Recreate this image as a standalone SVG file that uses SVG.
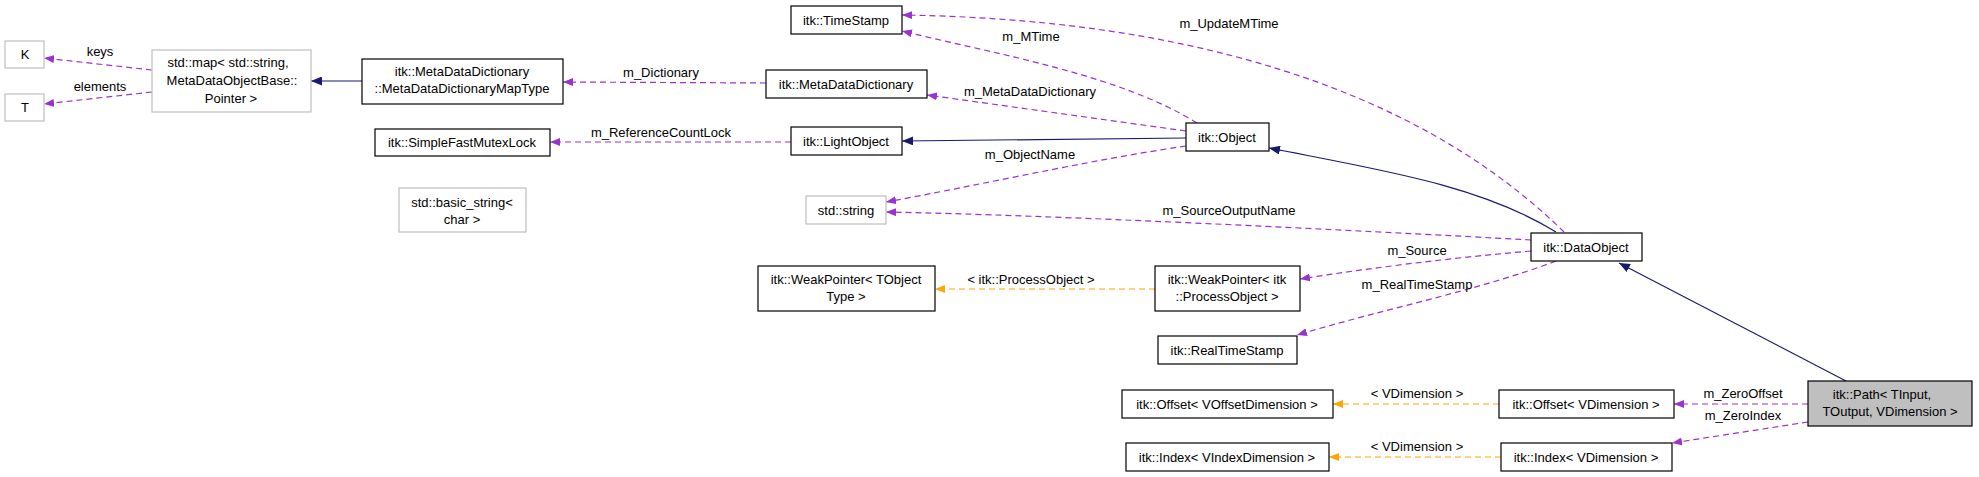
<svg xmlns="http://www.w3.org/2000/svg" width="1979" height="477" viewBox="0 0 1979 477">
<style>
.n rect{fill:#fff;stroke:#000;stroke-width:1.2}
.g rect{fill:#fff;stroke:#bfbfbf;stroke-width:1.2}
text{font-family:"Liberation Sans",Arial,sans-serif;font-size:13px;fill:#000;text-anchor:middle}
.p{fill:none;stroke:#9a32cd;stroke-width:1.2;stroke-dasharray:6,4}
.o{fill:none;stroke:#ffa500;stroke-width:1.2;stroke-dasharray:6,4}
.i{fill:none;stroke:#191970;stroke-width:1.2}
</style>
<defs>
<marker id="ap" markerWidth="10" markerHeight="8" refX="10" refY="4" orient="auto" markerUnits="userSpaceOnUse"><path d="M0,0L10,4L0,8z" fill="#9a32cd"/></marker>
<marker id="ao" markerWidth="10" markerHeight="8" refX="10" refY="4" orient="auto" markerUnits="userSpaceOnUse"><path d="M0,0L10,4L0,8z" fill="#ffa500"/></marker>
<marker id="ai" markerWidth="11" markerHeight="9" refX="11" refY="4.5" orient="auto" markerUnits="userSpaceOnUse"><path d="M0,0L11,4.5L0,9z" fill="#191970"/></marker>
</defs>
<rect width="1979" height="477" fill="#fff"/>
<g id="connectors">
<path class="p" d="M152,70L44,58" marker-end="url(#ap)"/><text x="100" y="56">keys</text>
<path class="p" d="M152,92L44,104" marker-end="url(#ap)"/><text x="100" y="91">elements</text>
<path class="i" d="M362,81L311,81" marker-end="url(#ai)"/>
<path class="p" d="M766,83L563,82" marker-end="url(#ap)"/><text x="661" y="77">m_Dictionary</text>
<path class="p" d="M791,142L550,142" marker-end="url(#ap)"/><text x="661" y="137">m_ReferenceCountLock</text>
<path class="i" d="M1186,138L902,141" marker-end="url(#ai)"/>
<path class="p" d="M1197,123C1120,75 1000,55 902,31" marker-end="url(#ap)"/><text x="1031" y="41">m_MTime</text>
<path class="p" d="M1564,232C1450,120 1250,20 902,15" marker-end="url(#ap)"/><text x="1229" y="28">m_UpdateMTime</text>
<path class="p" d="M1186,131L927,95" marker-end="url(#ap)"/><text x="1030" y="96">m_MetaDataDictionary</text>
<path class="p" d="M1186,146C1090,160 980,185 886,202" marker-end="url(#ap)"/><text x="1030" y="159">m_ObjectName</text>
<path class="p" d="M1531,240C1350,230 1050,215 886,212" marker-end="url(#ap)"/><text x="1229" y="215">m_SourceOutputName</text>
<path class="p" d="M1531,251C1450,258 1370,268 1300,279" marker-end="url(#ap)"/><text x="1417" y="255">m_Source</text>
<path class="p" d="M1556,261C1480,290 1380,310 1297,335" marker-end="url(#ap)"/><text x="1417" y="289">m_RealTimeStamp</text>
<path class="i" d="M1556,232C1480,185 1380,170 1269,148" marker-end="url(#ai)"/>
<path class="i" d="M1846,381L1619,263" marker-end="url(#ai)"/>
<path class="o" d="M1155,289L935,289" marker-end="url(#ao)"/><text x="1031" y="284">&lt; itk::ProcessObject &gt;</text>
<path class="o" d="M1499,404L1333,404" marker-end="url(#ao)"/><text x="1417" y="398">&lt; VDimension &gt;</text>
<path class="o" d="M1501,457L1329,457" marker-end="url(#ao)"/><text x="1417" y="451">&lt; VDimension &gt;</text>
<path class="p" d="M1808,404L1674,404" marker-end="url(#ap)"/><text x="1743" y="398">m_ZeroOffset</text>
<path class="p" d="M1808,422L1672,443" marker-end="url(#ap)"/><text x="1743" y="420">m_ZeroIndex</text>
</g>
<g id="K" class="g"><rect x="5" y="41" width="39" height="27"/><text x="25" y="59">K</text></g>
<g id="T" class="g"><rect x="5" y="94" width="39" height="27"/><text x="25" y="112">T</text></g>
<g id="stdmap" class="g"><rect x="152" y="50" width="159" height="62"/><text x="228" y="67">std::map&lt; std::string,</text><text x="232" y="85">MetaDataObjectBase::</text><text x="231" y="103">Pointer &gt;</text></g>
<g id="maptype" class="n"><rect x="362" y="59" width="201" height="45"/><text x="462" y="76">itk::MetaDataDictionary</text><text x="462" y="93">::MetaDataDictionaryMapType</text></g>
<g id="mutex" class="n"><rect x="375" y="129" width="175" height="27"/><text x="462" y="147">itk::SimpleFastMutexLock</text></g>
<g id="basicstring" class="g"><rect x="399" y="188" width="127" height="44"/><text x="462" y="207">std::basic_string&lt;</text><text x="462" y="224">char &gt;</text></g>
<g id="timestamp" class="n"><rect x="791" y="6" width="111" height="28"/><text x="846" y="25">itk::TimeStamp</text></g>
<g id="mdd" class="n"><rect x="766" y="70" width="161" height="28"/><text x="846" y="89">itk::MetaDataDictionary</text></g>
<g id="lightobject" class="n"><rect x="791" y="127" width="111" height="28"/><text x="846" y="146">itk::LightObject</text></g>
<g id="stdstring" class="g"><rect x="806" y="196" width="80" height="28"/><text x="846" y="215">std::string</text></g>
<g id="object" class="n"><rect x="1186" y="123" width="83" height="28"/><text x="1227" y="142">itk::Object</text></g>
<g id="dataobject" class="n"><rect x="1531" y="233" width="111" height="28"/><text x="1586" y="252">itk::DataObject</text></g>
<g id="wpT" class="n"><rect x="758" y="266" width="177" height="45"/><text x="846" y="284">itk::WeakPointer&lt; TObject</text><text x="846" y="301">Type &gt;</text></g>
<g id="wpPO" class="n"><rect x="1155" y="266" width="145" height="45"/><text x="1227" y="284">itk::WeakPointer&lt; itk</text><text x="1227" y="301">::ProcessObject &gt;</text></g>
<g id="rts" class="n"><rect x="1158" y="336" width="139" height="28"/><text x="1227" y="355">itk::RealTimeStamp</text></g>
<g id="offsetV" class="n"><rect x="1122" y="390" width="211" height="28"/><text x="1227" y="409">itk::Offset&lt; VOffsetDimension &gt;</text></g>
<g id="indexV" class="n"><rect x="1126" y="443" width="203" height="28"/><text x="1227" y="462">itk::Index&lt; VIndexDimension &gt;</text></g>
<g id="offsetD" class="n"><rect x="1499" y="390" width="175" height="28"/><text x="1586" y="409">itk::Offset&lt; VDimension &gt;</text></g>
<g id="indexD" class="n"><rect x="1501" y="443" width="171" height="28"/><text x="1586" y="462">itk::Index&lt; VDimension &gt;</text></g>
<g id="path"><rect x="1808" y="381" width="164" height="45" fill="#bfbfbf" stroke="#000" stroke-width="1.2"/><text x="1882" y="399">itk::Path&lt; TInput,</text><text x="1890" y="416">TOutput, VDimension &gt;</text></g>
</svg>
